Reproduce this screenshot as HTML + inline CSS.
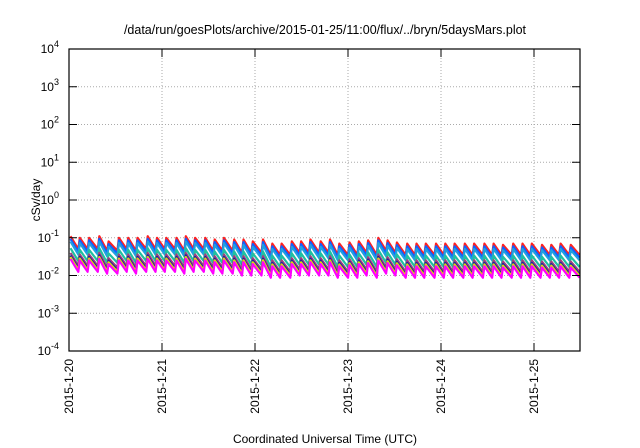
<!DOCTYPE html>
<html><head><meta charset="utf-8"><style>
body{margin:0;background:#fff;}
svg{display:block;font-family:"Liberation Sans",sans-serif;}
</style></head><body>
<svg id="chart" width="640" height="448" viewBox="0 0 640 448">
<text x="325" y="34" font-size="12.5" text-anchor="middle">/data/run/goesPlots/archive/2015-01-25/11:00/flux/../bryn/5daysMars.plot</text>
<text transform="translate(40,200) rotate(-90)" font-size="12" text-anchor="middle">cSv/day</text>
<text x="325" y="443" font-size="12" text-anchor="middle">Coordinated Universal Time (UTC)</text>
<g id="grid"></g><g id="series"></g><g id="axes"></g>
</svg>
<script>
const yTickExps=[-4,-3,-2,-1,0,1,2,3,4];
const xTickLabels=["2015-1-20","2015-1-21","2015-1-22","2015-1-23","2015-1-24","2015-1-25"];
const xTickDays=[0,1,2,3,4,5];
const cycleStartDays=[0.00,0.10,0.20,0.31,0.41,0.52,0.62,0.72,0.83,0.93,1.03,1.14,1.24,1.34,1.45,1.55,1.65,1.76,1.86,1.96,2.07,2.17,2.27,2.38,2.48,2.58,2.69,2.79,2.89,3.00,3.10,3.20,3.31,3.41,3.51,3.62,3.72,3.82,3.93,4.03,4.13,4.24,4.34,4.45,4.55,4.65,4.76,4.86,4.96,5.07,5.17,5.27,5.38,5.49];
const redPeaks=[0.11,0.10,0.10,0.11,0.08,0.10,0.10,0.10,0.11,0.10,0.10,0.10,0.11,0.10,0.10,0.09,0.10,0.09,0.09,0.08,0.09,0.07,0.07,0.08,0.08,0.09,0.08,0.09,0.07,0.075,0.08,0.085,0.10,0.085,0.075,0.07,0.07,0.07,0.07,0.07,0.07,0.07,0.07,0.07,0.07,0.065,0.07,0.07,0.07,0.065,0.065,0.07,0.065,0.065];
const redTroughs=[0.05,0.05,0.05,0.045,0.045,0.05,0.045,0.05,0.05,0.05,0.05,0.045,0.05,0.05,0.045,0.045,0.045,0.04,0.04,0.04,0.035,0.035,0.035,0.04,0.04,0.04,0.04,0.035,0.035,0.035,0.04,0.035,0.045,0.04,0.035,0.035,0.035,0.035,0.035,0.035,0.035,0.035,0.035,0.035,0.035,0.035,0.035,0.035,0.035,0.035,0.035,0.035,0.035,0.035];
const seriesFactors=[1.0,0.85,0.72,0.48,0.36,0.31,0.28,0.25];
const seriesColors=["#ff2020","#1060ff","#20a0e0","#20c0a0","#a04080","#2020a0","#e0e000","#ff00ff"];
const X0=69,X1=580,Y0=49,Y1=351,DAYPX=93,YMIN=-4,YMAX=4;
const sx=d=>X0+d*DAYPX;
const sy=v=>Y1-(Math.log10(v)-YMIN)/(YMAX-YMIN)*(Y1-Y0);
const NS="http://www.w3.org/2000/svg";
const grid=document.getElementById('grid'),axes=document.getElementById('axes'),ser=document.getElementById('series');
function mk(tag,attrs,parent){const e=document.createElementNS(NS,tag);for(const k in attrs)e.setAttribute(k,attrs[k]);parent.appendChild(e);return e;}
yTickExps.forEach(e=>{
 const y=Y1-(e-YMIN)/(YMAX-YMIN)*(Y1-Y0);
 if(e>YMIN&&e<YMAX){const g=mk('line',{x1:X0,x2:X1,y1:y,y2:y,stroke:'#aaa','stroke-dasharray':'1,2'},grid);
 
 }
 const t1=mk('line',{x1:X0,x2:X0+8,y1:y,y2:y,stroke:'#000'},axes);
 
 
 mk('line',{x1:X1-8,x2:X1,y1:y,y2:y,stroke:'#000'},axes);
 const t=mk('text',{x:X0-10,y:y+4,'font-size':'12','text-anchor':'end'},axes);
 
 
 t.innerHTML='10<tspan dy="-6" font-size="9">'+e+'</tspan>';
});
xTickDays.forEach((d,i)=>{
 const x=sx(d);
 if(d>0){const g=mk('line',{x1:x,x2:x,y1:Y0,y2:Y1,stroke:'#aaa','stroke-dasharray':'1,2'},grid);
 
 }
 mk('line',{x1:x,x2:x,y1:Y1,y2:Y1-8,stroke:'#000'},axes);
 mk('line',{x1:x,x2:x,y1:Y0,y2:Y0+8,stroke:'#000'},axes);
 const t=mk('text',{transform:`translate(${x+4},${Y1+8}) rotate(-90)`,'font-size':'12','text-anchor':'end'},axes);
 
 
 t.textContent=xTickLabels[i];
});
const fr=mk('rect',{x:X0,y:Y0,width:X1-X0,height:Y1-Y0,fill:'none',stroke:'#000','stroke-width':'1.2'},axes);


seriesFactors.forEach((f,si)=>{
 let pts=[];
 for(let i=0;i<cycleStartDays.length-1;i++){
  pts.push([sx(cycleStartDays[i])+1.5,sy(redPeaks[i]*f)]);
  pts.push([sx(cycleStartDays[i+1]),sy(redTroughs[i]*f)]);
 }
 const p=mk('polyline',{points:pts.map(q=>q[0].toFixed(1)+','+q[1].toFixed(1)).join(' '),fill:'none',stroke:seriesColors[si],'stroke-width':'2.2','stroke-linejoin':'round'},ser);
 
 
});
</script>
</body></html>
